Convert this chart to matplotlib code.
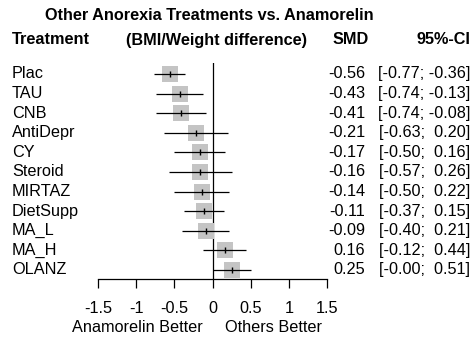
import matplotlib
matplotlib.use("Agg")
import matplotlib.pyplot as plt
from matplotlib.transforms import blended_transform_factory

treatments = ["Plac", "TAU", "CNB", "AntiDepr", "CY", "Steroid",
              "MIRTAZ", "DietSupp", "MA_L", "MA_H", "OLANZ"]
smd = [-0.56, -0.43, -0.41, -0.21, -0.17, -0.16, -0.14, -0.11, -0.09, 0.16, 0.25]
lower = [-0.77, -0.74, -0.74, -0.63, -0.50, -0.57, -0.50, -0.37, -0.40, -0.12, -0.00]
upper = [-0.36, -0.13, -0.08, 0.20, 0.16, 0.26, 0.22, 0.15, 0.21, 0.44, 0.51]
xticks = [-1.5, -1, -0.5, 0, 0.5, 1, 1.5]
xtick_labels = ["-1.5", "-1", "-0.5", "0", "0.5", "1", "1.5"]

plt.rcParams["font.family"] = ["Liberation Sans", "DejaVu Sans"]
FS = 11.7

W, H = 475, 339
fig = plt.figure(figsize=(W / 100, H / 100), dpi=100)


def px(x0, y0, x1, y1):
    # pixel box (top-left origin) -> figure fraction rect
    return [x0 / W, 1 - y1 / H, (x1 - x0) / W, (y1 - y0) / H]


ax = fig.add_axes(px(98, 63, 327, 279))
n = len(treatments)
rows = list(range(n))
ax.set_xlim(-1.5, 1.5)
ax.set_ylim(n - 1 + 0.46, -0.56)

ax.axvline(0, color="black", lw=0.9, zorder=1)
ax.scatter(smd, rows, marker="s", s=118, color="#c4c4c4", linewidths=0, zorder=2)
ax.hlines(rows, lower, upper, color="black", lw=0.9, zorder=3)
ax.scatter(smd, rows, marker="|", s=22, color="black", linewidths=1.0, zorder=4)

for side in ("top", "right", "left"):
    ax.spines[side].set_visible(False)
ax.spines["bottom"].set_linewidth(0.9)
ax.set_yticks([])
ax.set_xticks(xticks)
ax.set_xticklabels(xtick_labels)
ax.tick_params(axis="x", direction="out", length=6.5, width=0.9, pad=9, labelsize=FS)

# text columns: x in figure pixels, y in data rows
tr = blended_transform_factory(fig.transFigure, ax.transData)
for i, name in enumerate(treatments):
    ax.text(12 / W, i, name, transform=tr, ha="left", va="center", fontsize=FS, clip_on=False)
    ax.text(365 / W, i, f"{smd[i]:.2f}", transform=tr, ha="right", va="center", fontsize=FS, clip_on=False)
    lo = f"{lower[i]:.2f}" if lower[i] < 0 else f" {abs(lower[i]):.2f}"
    if lower[i] == 0:
        lo = "-0.00"
    up = f"{upper[i]:.2f}" if upper[i] < 0 else f" {upper[i]:.2f}"
    ax.text(470 / W, i, f"[{lo}; {up}]", transform=tr, ha="right", va="center", fontsize=FS, clip_on=False)

# headers
fig.text(209 / W, 1 - 16 / H, "Other Anorexia Treatments vs. Anamorelin",
         ha="center", va="center", fontsize=FS, fontweight="bold")
fig.text(12 / W, 1 - 40 / H, "Treatment", ha="left", va="center", fontsize=FS, fontweight="bold")
fig.text(216 / W, 1 - 40 / H, "(BMI/Weight difference)", ha="center", va="center",
         fontsize=FS, fontweight="bold")
fig.text(351 / W, 1 - 40 / H, "SMD", ha="center", va="center", fontsize=FS, fontweight="bold")
fig.text(470 / W, 1 - 40 / H, "95%-CI", ha="right", va="center", fontsize=FS, fontweight="bold")

# direction labels under the axis
fig.text(203 / W, 1 - 328 / H, "Anamorelin Better", ha="right", va="center", fontsize=FS)
fig.text(225 / W, 1 - 328 / H, "Others Better", ha="left", va="center", fontsize=FS)

fig.savefig("out.png", dpi=100)
